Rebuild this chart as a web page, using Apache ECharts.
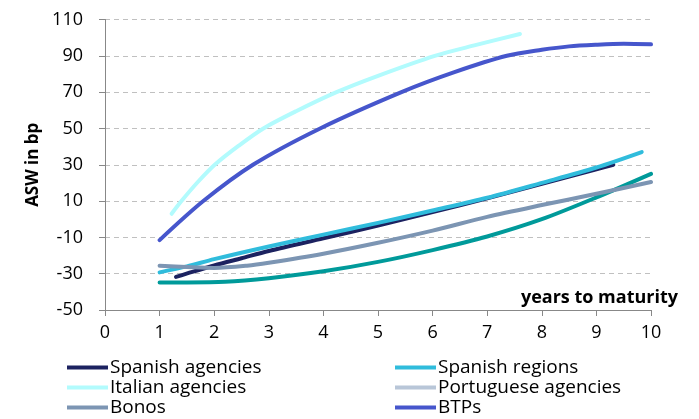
<!DOCTYPE html>
<html>
<head>
<meta charset="utf-8">
<script src="https://cdn.jsdelivr.net/npm/echarts@6/dist/echarts.min.js"></script>
<style>
  html, body { margin: 0; padding: 0; background: #ffffff; }
  #chart { width: 699px; height: 419px; }
</style>
</head>
<body>
<div id="chart"></div>
<script>
// Asset swap spreads (bp) by years to maturity: [years, ASW]
const spanishAgencies = [[1.3,-31.8],[1.6,-29],[2,-25.5],[2.5,-21.5],[3,-17.5],[4,-10.5],[5,-3.5],[6,4],[7,11.5],[8,19.5],[9,27.5],[9.31,30]];
const spanishRegions = [[1,-29.3],[1.5,-26],[2,-22],[3,-15],[4,-8.5],[5,-2],[6,4.8],[7,11.8],[8,20],[9,28.5],[9.83,37]];
const italianAgencies = [[1.22,3],[1.4,10],[1.7,20.5],[2.01,30],[2.45,40.5],[2.9,50],[3.5,59.5],[4.24,70],[5,79],[6.04,90],[6.8,96],[7.6,102]];
const portugueseAgencies = [[1,-34.8],[1.5,-34.8],[2.2,-34.5],[3,-32.5],[4,-28.7],[5,-23.5],[6,-17],[7,-9.5],[8,0],[9,12],[10,25]];
const bonos = [[1,-25.6],[1.5,-26.3],[2,-26.8],[2.6,-25.6],[3,-24],[4,-19],[5,-13],[6,-6.3],[7,1.3],[8,7.8],[9,14],[10,20.5]];
const btps = [[1,-11.5],[1.8,10],[2.71,30],[3.94,50],[5.43,70],[6.4,81],[7.36,90],[8,93.3],[8.5,95.2],[9,96.1],[9.5,96.6],[10,96.3]];

const seriesNames = ['Spanish agencies','Spanish regions','Italian agencies','Portuguese agencies','Bonos','BTPs'];
const seriesData = [spanishAgencies, spanishRegions, italianAgencies, portugueseAgencies, bonos, btps];
const lineColors = ['#1c2260','#30bcdc','#b2fbfd','#009a9a','#7c95b3','#4656cc'];
const legendColors = ['#1c2260','#30bcdc','#b2fbfd','#b8c6d8','#7c95b3','#4656cc'];

const yTicks = { min: -50, max: 110, step: 20 };
const xTicks = { min: 0, max: 10, step: 1 };

const FONT = '"Open Sans"';
const chart = echarts.init(document.getElementById('chart'), null, { renderer: 'canvas' });

const legendItem = i => ({ name: seriesNames[i], itemStyle: { color: legendColors[i] } });
const legendBase = {
  orient: 'vertical',
  top: 358,
  itemGap: 1,
  itemWidth: 41,
  itemHeight: 4,
  icon: 'rect',
  selectedMode: false,
  padding: 0,
  textStyle: { fontFamily: FONT, fontSize: 19, lineHeight: 18, color: '#000', padding: [0, 0, 0, -3] }
};

chart.setOption({
  animation: false,
  backgroundColor: '#ffffff',
  grid: { left: 105, right: 48, top: 19.5, bottom: 109, containLabel: false },
  xAxis: {
    type: 'value',
    min: xTicks.min, max: xTicks.max, interval: xTicks.step,
    name: 'years to maturity',
    nameLocation: 'end',
    nameGap: 27,
    nameTextStyle: { fontFamily: FONT, fontSize: 18, fontWeight: 'bold', color: '#000', align: 'right', verticalAlign: 'bottom', padding: [0, 0, 3, 0] },
    axisLine: { show: true, onZero: false, lineStyle: { color: '#888888', width: 1 } },
    axisTick: { show: true, length: 6, lineStyle: { color: '#888888' } },
    axisLabel: { fontFamily: FONT, fontSize: 18, color: '#000', margin: 14 },
    splitLine: { show: false }
  },
  yAxis: {
    type: 'value',
    min: yTicks.min, max: yTicks.max, interval: yTicks.step,
    name: 'ASW in bp',
    nameLocation: 'middle',
    nameGap: 63,
    nameTextStyle: { fontFamily: FONT, fontSize: 17, fontWeight: 'bold', color: '#000' },
    axisLine: { show: true, onZero: false, lineStyle: { color: '#888888', width: 1 } },
    axisTick: { show: true, length: 6, lineStyle: { color: '#888888' } },
    axisLabel: { fontFamily: FONT, fontSize: 18, color: '#000', margin: 22 },
    splitLine: { show: true, lineStyle: { color: '#c0c0c0', type: [5, 4], width: 1 } }
  },
  legend: [
    Object.assign({}, legendBase, { left: 67, data: [legendItem(0), legendItem(2), legendItem(4)] }),
    Object.assign({}, legendBase, { left: 395, data: [legendItem(1), legendItem(3), legendItem(5)] })
  ],
  series: seriesNames.map((name, i) => ({
    name,
    type: 'line',
    data: seriesData[i],
    showSymbol: false,
    symbol: 'none',
    smooth: 0.3,
    itemStyle: { color: lineColors[i] },
    lineStyle: { color: lineColors[i], width: 4, cap: 'round', join: 'round' }
  }))
});
</script>
</body>
</html>
